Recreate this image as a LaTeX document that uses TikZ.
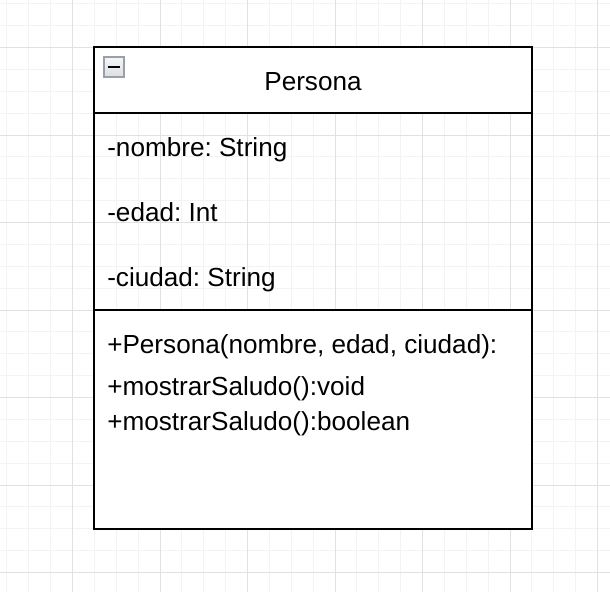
\documentclass[tikz,border=0pt]{standalone}
\usepackage{fontspec}
\setmainfont{Liberation Sans}
\usetikzlibrary{positioning,backgrounds}
\definecolor{gridminor}{HTML}{F3F3F3}
\definecolor{gridmajor}{HTML}{E1E1E1}
\definecolor{iconborder}{HTML}{9AA0AB}
\definecolor{iconfill}{HTML}{DCDEE2}
\tikzstyle{minorline} = [draw=gridminor, line width=0.75pt]
\tikzstyle{majorline} = [draw=gridmajor, line width=0.75pt]
\tikzstyle{classpart} = [rectangle, draw=black, line width=1.5pt, outer sep=0pt, inner sep=0pt, minimum width=328.5pt, anchor=north west]
\tikzstyle{member} = [anchor=base west, inner sep=0pt, font=\fontsize{19.6}{25.5}\selectfont]
\frenchspacing

\begin{document}
\begin{tikzpicture}[x=0.75pt, y=-0.75pt]
\useasboundingbox (0,0) rectangle (610,592);
\fill[white] (0,0) rectangle (610,592);
% grid
\foreach \i in {0,...,27} {
  \draw[minorline] (6.875+\i*21.875,0) -- (6.875+\i*21.875,592);
  \draw[minorline] (0,3.75+\i*21.875) -- (610,3.75+\i*21.875);
}
\foreach \i in {0,...,6} {
  \draw[majorline] (72.5+\i*87.5,0) -- (72.5+\i*87.5,592);
  \draw[majorline] (0,47.5+\i*87.5) -- (610,47.5+\i*87.5);
}

% class box
\node (head) [classpart, minimum height=49.5pt, fill=white] at (94,47) {};
\node (attrs) [classpart, minimum height=147.75pt, below=0pt of head.south west, anchor=north west] {};
\node (meths) [classpart, minimum height=164.25pt, fill=white, below=0pt of attrs.south west, anchor=north west] {};

\node (icon) [rectangle, draw=iconborder, line width=1.3pt, top color=white!70!iconfill, bottom color=iconfill, minimum size=14.5pt, inner sep=0pt] at (114,67) {};
\draw[line width=2pt] ([xshift=-4.8pt]icon.center) -- ([xshift=4.8pt]icon.center);

\node (name) [anchor=base, inner sep=0pt, font=\fontsize{19.6}{25.5}\selectfont] at (313,90.7) {Persona};

\node (a1) [member] at (107,156) {-nombre: String};
\node (a2) [member] at (107,221.7) {-edad: Int};
\node (a3) [member] at (107,286.7) {-ciudad: String};

\node (m1) [member] at (107,353.3) {+Persona(nombre, edad, ciudad):};
\node (m2) [member] at (107,395.7) {+mostrarSaludo():void};
\node (m3) [member] at (107,430) {+mostrarSaludo():boolean};
\end{tikzpicture}
\end{document}
